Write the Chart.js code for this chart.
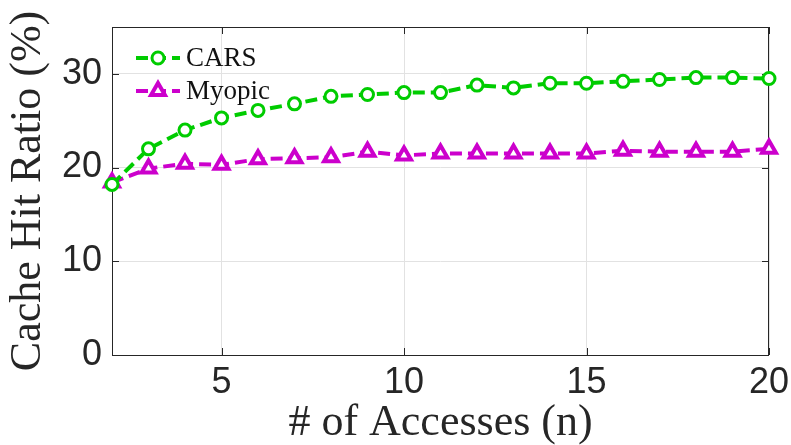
<!DOCTYPE html>
<html>
<head>
<meta charset="utf-8">
<script src="https://cdn.jsdelivr.net/npm/chart.js@4"></script>
<style>
  html, body { margin: 0; padding: 0; background: #fff; }
  #wrap { width: 791px; height: 445px; }
</style>
</head>
<body>
<div id="wrap"><canvas id="hitChart"></canvas></div>
<script>
// number of accesses on the x axis
const accesses = [2, 3, 4, 5, 6, 7, 8, 9, 10, 11, 12, 13, 14, 15, 16, 17, 18, 19, 20];
// hit ratio (%) per scheme
const carsHit = [18.2, 22.0, 24.0, 25.3, 26.1, 26.8, 27.6, 27.8, 28.0, 28.0, 28.8, 28.5, 29.0, 29.0, 29.2, 29.4, 29.6, 29.6, 29.5];
const myopicHit = [18.4, 19.9, 20.4, 20.3, 20.9, 21.0, 21.1, 21.7, 21.3, 21.5, 21.5, 21.5, 21.5, 21.5, 21.8, 21.7, 21.7, 21.7, 22.0];
const xTickValues = [5, 10, 15, 20];
const yTickValues = [0, 10, 20, 30];

const GREEN = "rgb(0, 204, 0)";
const MAGENTA = "rgb(204, 0, 204)";

const toPoints = (ys) => ys.map((y, i) => ({ x: accesses[i], y: y }));

// box around the plot plus inward tick marks on all four sides
const boxPlugin = {
  id: "box",
  beforeDatasetsDraw(chart) {
    const { ctx, chartArea: a, scales } = chart;
    const len = 7;
    ctx.save();
    ctx.strokeStyle = "#262626";
    ctx.lineWidth = 1;
    ctx.strokeRect(a.left + 0.5, a.top + 0.5, a.right - a.left - 1, a.bottom - a.top);
    ctx.beginPath();
    xTickValues.forEach((v) => {
      const px = Math.round(scales.x.getPixelForValue(v)) + 0.5;
      ctx.moveTo(px, a.bottom); ctx.lineTo(px, a.bottom - len);
      ctx.moveTo(px, a.top); ctx.lineTo(px, a.top + len);
    });
    yTickValues.forEach((v) => {
      const py = Math.round(scales.y.getPixelForValue(v)) + 0.5;
      ctx.moveTo(a.left, py); ctx.lineTo(a.left + len, py);
      ctx.moveTo(a.right, py); ctx.lineTo(a.right - len, py);
    });
    ctx.stroke();
    ctx.restore();
  },
};

// legend inside the top-left corner: dashed line sample, marker, label
const insideLegend = {
  id: "insideLegend",
  afterDatasetsDraw(chart) {
    const { ctx } = chart;
    const x0 = 136, x1 = 180, rows = [58, 91];
    chart.data.datasets.forEach((ds, i) => {
      const y = rows[i];
      ctx.save();
      ctx.strokeStyle = ds.borderColor;
      ctx.lineWidth = ds.borderWidth;
      ctx.setLineDash(ds.borderDash);
      ctx.beginPath();
      ctx.moveTo(x0, y);
      ctx.lineTo(x1, y);
      ctx.stroke();
      ctx.setLineDash([]);
      ctx.fillStyle = ds.pointBackgroundColor;
      ctx.strokeStyle = ds.pointBorderColor;
      ctx.lineWidth = ds.pointBorderWidth;
      Chart.helpers.drawPoint(ctx, {
        pointStyle: ds.pointStyle,
        radius: ds.pointRadius,
        borderWidth: ds.pointBorderWidth,
        rotation: 0,
      }, (x0 + x1) / 2, y);
      ctx.restore();
      ctx.save();
      ctx.fillStyle = "#111";
      ctx.font = "27px 'Liberation Serif'";
      ctx.textBaseline = "middle";
      ctx.fillText(ds.label, 186, y + 1);
      ctx.restore();
    });
  },
};

Chart.defaults.font.family = "'Liberation Sans', Arial, sans-serif";
Chart.defaults.color = "#262626";

new Chart(document.getElementById("hitChart"), {
  type: "line",
  data: {
    datasets: [
      {
        label: "CARS",
        data: toPoints(carsHit),
        borderColor: GREEN,
        backgroundColor: "#fff",
        pointBackgroundColor: "#fff",
        pointBorderColor: GREEN,
        borderWidth: 4,
        borderDash: [12, 6],
        pointStyle: "circle",
        pointRadius: 6,
        pointBorderWidth: 3,
        clip: false,
      },
      {
        label: "Myopic",
        data: toPoints(myopicHit),
        borderColor: MAGENTA,
        backgroundColor: "#fff",
        pointBackgroundColor: "#fff",
        pointBorderColor: MAGENTA,
        borderWidth: 4,
        borderDash: [12, 6],
        pointStyle: "triangle",
        pointRadius: 8,
        pointBorderWidth: 4,
        clip: false,
      },
    ],
  },
  plugins: [boxPlugin, insideLegend],
  options: {
    responsive: true,
    maintainAspectRatio: false,
    animation: false,
    layout: { padding: { top: 27, right: 22, left: 0, bottom: 0 } },
    plugins: {
      legend: { display: false },
      tooltip: { enabled: false },
    },
    scales: {
      x: {
        type: "linear",
        min: 2,
        max: 20,
        afterBuildTicks: (scale) => { scale.ticks = xTickValues.map((v) => ({ value: v })); },
        afterFit: (scale) => {
          scale.height = 90;
          scale.paddingLeft = 0;
          scale.paddingRight = 0;
        },
        grid: { color: "#e2e2e2", drawTicks: false },
        border: { display: false },
        ticks: { padding: 6, font: { size: 36 }, color: "#262626", maxRotation: 0 },
        title: {
          display: true,
          text: "# of Accesses (n)",
          font: { family: "'Liberation Serif'", size: 44, lineHeight: 1.0 },
          color: "#262626",
          padding: 0,
        },
      },
      y: {
        min: 0,
        max: 35,
        afterBuildTicks: (scale) => { scale.ticks = yTickValues.map((v) => ({ value: v })); },
        afterFit: (scale) => {
          scale.width = 112;
          scale.paddingTop = 0;
          scale.paddingBottom = 0;
        },
        grid: { color: "#e2e2e2", drawTicks: false },
        border: { display: false },
        ticks: { padding: 10, font: { size: 36 }, color: "#262626" },
        title: {
          display: true,
          text: "Cache Hit Ratio (%)",
          font: { family: "'Liberation Serif'", size: 44, lineHeight: 1.0 },
          color: "#262626",
          padding: { top: 6, bottom: 0 },
        },
      },
    },
  },
});
</script>
</body>
</html>
